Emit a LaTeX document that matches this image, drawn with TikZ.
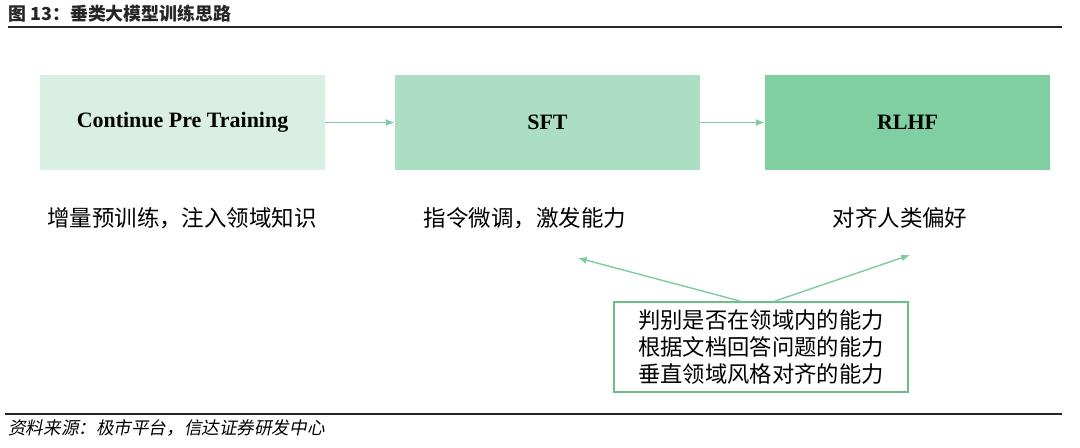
\documentclass[tikz,border=0pt]{standalone}
\usepackage{fontspec}
\setmainfont{Liberation Serif}
\newfontfamily\cjk{Noto Sans CJK SC}
\newfontfamily\cjkslant[FakeSlant=0.2]{Noto Sans CJK SC}
\usetikzlibrary{arrows.meta, positioning}
\definecolor{stageA}{HTML}{D9EFE3}
\definecolor{stageB}{HTML}{ACDEC3}
\definecolor{stageC}{HTML}{80CFA1}
\definecolor{flowline}{HTML}{7ECBA0}
\definecolor{skillframe}{HTML}{6CBF85}
\tikzset{
  stage/.style={minimum height=1.9cm, inner sep=0pt, font=\fontsize{12.5}{14}\selectfont\bfseries},
  stagenote/.style={font=\cjk\fontsize{12.8}{15}\selectfont, inner sep=0pt},
  flow/.style={draw=flowline, line width=0.9pt, -{Latex[length=5pt,width=4pt]}},
}
\begin{document}
\begin{tikzpicture}[x=0.02cm, y=-0.02cm]
\useasboundingbox (0,0) rectangle (1080,447);

% title and rules
\node[anchor=west, inner sep=0pt, font=\cjk\bfseries\fontsize{10.2}{12}\selectfont, text=black!85] (title) at (8,14) {图 13：垂类大模型训练思路};
\draw[line width=1.3pt, black!85] (8,27) -- (1062,27);
\draw[line width=0.7pt, black!85] (5,414) -- (1062,414);
\node[anchor=west, inner sep=0pt, font=\cjkslant\fontsize{10}{12}\selectfont] (source) at (8,428) {资料来源：极市平台，信达证券研发中心};

% stages
\node[stage, fill=stageA, minimum width=5.7cm] (cpt) at (182.5,122.5) {Continue Pre Training};
\node[stage, fill=stageB, minimum width=6.1cm] (sft) at (547.5,122.5) {SFT};
\node[stage, fill=stageC, minimum width=5.7cm] (rlhf) at (907.5,122.5) {RLHF};
\draw[flow] (cpt) -- (sft);
\draw[flow] (sft) -- (rlhf);

% notes under the stages
\node[stagenote] (cptnote) at (182,218) {增量预训练，注入领域知识};
\node[stagenote] (sftnote) at (525,218) {指令微调，激发能力};
\node[stagenote] (rlhfnote) at (900,218) {对齐人类偏好};

% vertical-domain skills
\node[draw=skillframe, line width=1.1pt, fill=white, minimum width=5.88cm, minimum height=1.8cm,
      align=center, font=\cjk\fontsize{12.7}{15.4}\selectfont] (skills) at (761,347)
  {判别是否在领域内的能力\\根据文档回答问题的能力\\垂直领域风格对齐的能力};
\coordinate (sfttip) at (578,258);
\coordinate (rlhftip) at (910,255);
\draw[flow, line width=0.8pt] ([xshift=-0.42cm]skills.north) -- (sfttip);
\draw[flow, line width=0.8pt] ([xshift=0.28cm]skills.north) -- (rlhftip);
\end{tikzpicture}
\end{document}
